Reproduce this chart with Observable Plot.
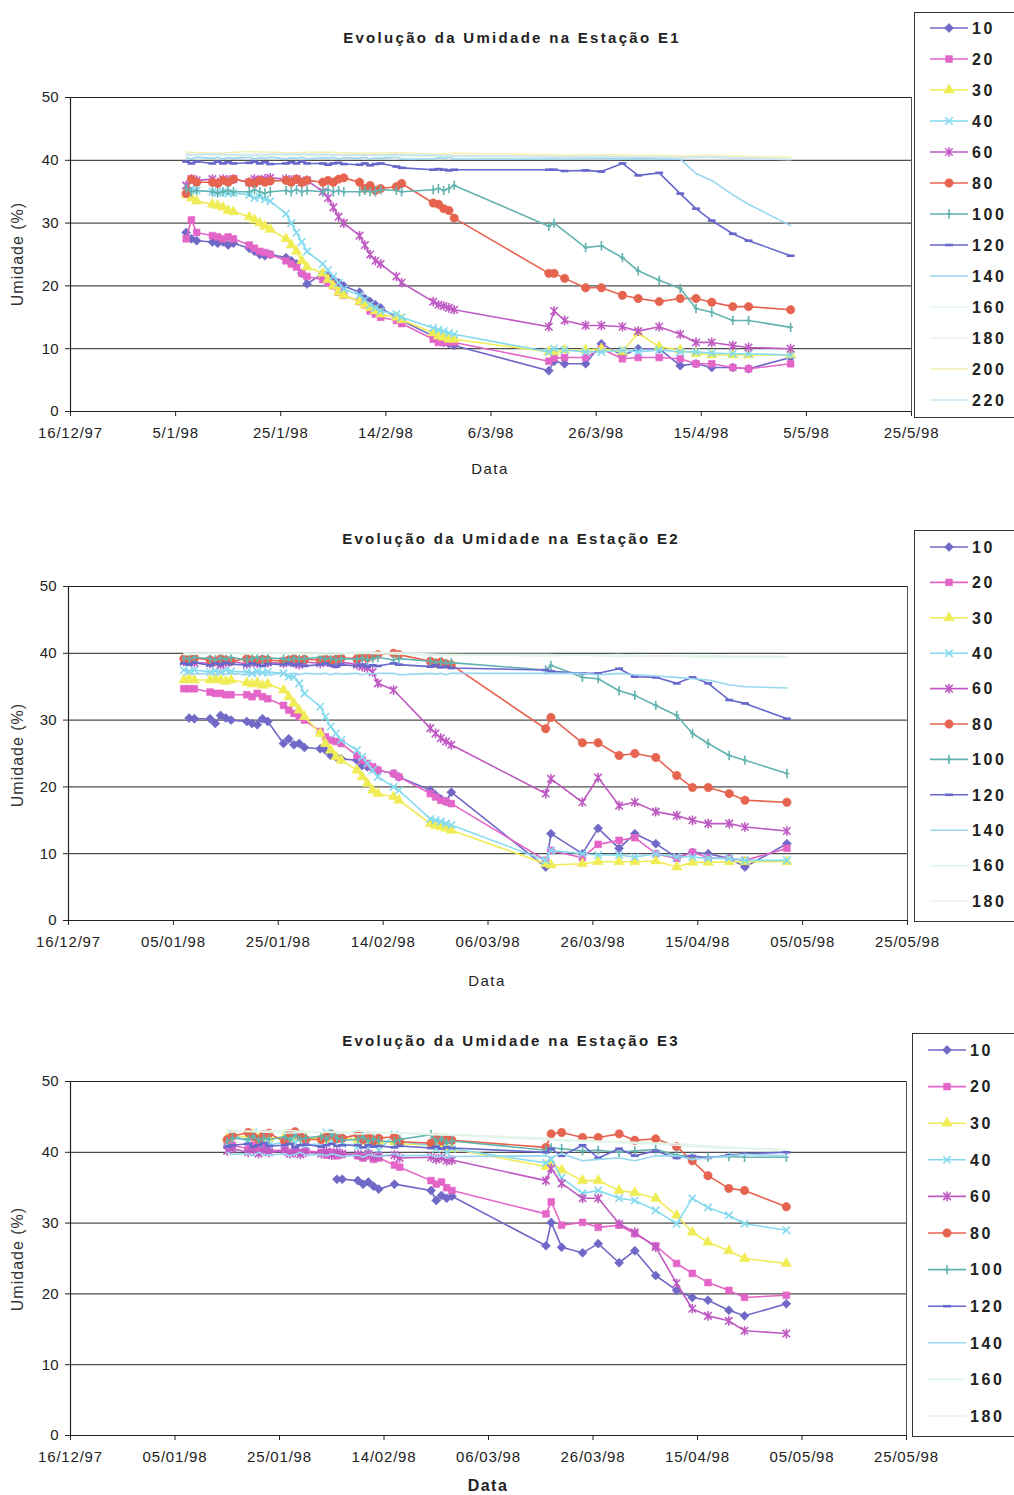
<!DOCTYPE html>
<html><head><meta charset="utf-8">
<script src="https://cdn.jsdelivr.net/npm/d3@7"></script>
<script src="https://cdn.jsdelivr.net/npm/@observablehq/plot@0.6"></script>
<style>
html,body{margin:0;padding:0;background:#fff;}
#page{position:relative;width:1014px;height:1495px;overflow:hidden;background:#fff;font-family:"Liberation Sans",Arial,sans-serif;color:#222;}
.title{position:absolute;font-weight:bold;font-size:15px;letter-spacing:2.3px;white-space:nowrap;transform:translate(-50%,-50%);color:#222;}
.ylab{position:absolute;font-size:16px;letter-spacing:1px;white-space:nowrap;transform:translate(-50%,-50%) rotate(-90deg);color:#333;}
.xlab{position:absolute;font-size:15px;letter-spacing:1.5px;white-space:nowrap;transform:translate(-50%,-50%);color:#222;}
.legend{position:absolute;border:1.5px solid #333;background:#fff;box-sizing:border-box;}
#page svg g[aria-label="x-axis tick label"] text{letter-spacing:0.8px;}
</style></head>
<body><div id="page"></div>
<script>
// ---------- shared ----------
const depths = ["10","20","30","40","60","80","100","120","140","160","180","200","220"];
const seriesColors = ["#7068c6","#e465c8","#f0ec55","#84daef","#be5ac2","#e6634f","#62b3b0","#6767cc","#96d6ef","#e2f5f5","#e3f4e3","#f5f1b6","#cae3f5"];
const markerKinds = ["diamond","square","triangle","times","asterisk","circle","plus","dash","none","none","none","none","none"];
const tickDates = ["1997-12-16","1998-01-05","1998-01-25","1998-02-14","1998-03-06","1998-03-26","1998-04-15","1998-05-05","1998-05-25"];
const e1TickLabels = ["16/12/97","5/1/98","25/1/98","14/2/98","6/3/98","26/3/98","15/4/98","5/5/98","25/5/98"];
const e23TickLabels = ["16/12/97","05/01/98","25/01/98","14/02/98","06/03/98","26/03/98","15/04/98","05/05/98","25/05/98"];
const yTicks = [0,10,20,30,40,50];

// ---------- Estação E1 ----------
const e1Dates = ["1998-01-07","1998-01-08","1998-01-09","1998-01-12","1998-01-13","1998-01-14","1998-01-15","1998-01-16","1998-01-19","1998-01-20","1998-01-21","1998-01-22","1998-01-23","1998-01-26","1998-01-27","1998-01-28","1998-01-29","1998-01-30","1998-02-02","1998-02-03","1998-02-04","1998-02-05","1998-02-06","1998-02-09","1998-02-10","1998-02-11","1998-02-12","1998-02-13","1998-02-16","1998-02-17","1998-02-23","1998-02-24","1998-02-25","1998-02-26","1998-02-27","1998-03-17","1998-03-18","1998-03-20","1998-03-24","1998-03-27","1998-03-31","1998-04-03","1998-04-07","1998-04-11","1998-04-14","1998-04-17","1998-04-21","1998-04-24","1998-05-02"];
const e1s10 = [28.5,27.5,27.2, 27,26.8,27,26.5,26.8, 26,25.5,25,24.8,25, 24.5,24,23.5,22,20.3, 22,21.5,21,20.5,20, 19,18,17.5,17,16.5, 15,14.5, 12,11.5,11,10.8,10.5, 6.5,8,7.6,7.6,10.8,8.9,10,10,7.3,7.6,7,7,6.8,8.6];
const e1s20 = [27.5,30.5,28.5, 28,27.8,27.5,27.8,27.5, 26.5,26,25.5,25.3,25, 24,23.5,23,22,21.5, 21,20.5,20,19,18.5, 17.5,17,16,15.5,15, 14.5,14, 11.5,11,11,11,11, 8,8.5,8.6,8.6,10,8.4,8.6,8.6,8.4,7.6,7.6,7,6.8,7.6];
const e1s30 = [34.5,34,33.5, 33,32.8,32.5,32,31.8, 31,30.5,30,29.5,29, 27.5,26.5,25.5,24,23, 22,21,20,19,18.5, 17.5,17,16.5,16,15.5, 15,14.6, 12.5,12,11.8,11.5,11.5, 9.5,9.5,9.8,9.8,10,9.5,12.5,10.3,9.8,9.2,9,9,9,9];
const e1s40 = [36,35.5,35.2, 35,34.8,35,34.7,34.8, 34.5,34,34.2,33.8,33.5, 31.5,30,28.5,27,25.5, 23.5,22.5,21.5,20.5,19.5, 18.5,17.8,17,16.5,16, 15.5,15, 13.3,13,12.8,12.5,12.3, 9.5,10,9.8,9.5,9.5,9.8,9.5,9.8,9.5,9.5,9.3,9.2,9.2,9];
const e1s60 = [36,37,36.8, 37,36.5,37,36.8,37, 36.5,37,36.8,37,37.2, 37,36.8,37,36.5,36.8, 35,34,32.5,31,30, 28,26.5,25,24,23.5, 21.5,20.5, 17.5,17,16.8,16.5,16.2, 13.5,16,14.5,13.7,13.7,13.5,12.8,13.5,12.3,11,11,10.5,10.2,10];
const e1s80 = [34.7,37,36.5, 36.5,36.3,36.8,36.5,37, 36.5,36.3,36.8,36.5,36.7, 36.8,36.5,37,36.5,36.8, 36.5,36.8,36.5,37,37.2, 36.5,35.5,36,35.2,35.5, 35.8,36.3, 33.2,33,32.3,32,30.8, 22,22,21.2,19.7,19.7,18.5,18,17.5,18,18,17.4,16.7,16.7,16.2];
const e1s100 = [35.5,35,35.2, 35,34.8,35,35.2,35, 35,35.3,35,34.8,35, 35.2,35,35.3,35,35.2, 35,35.3,35,35.2,35, 35,35.2,35,35,35.3, 35.2,35, 35.3,35.5,35.2,35.5,36, 29.5,30,null,26.1,26.4,24.5,22.4,20.9,19.6,16.4,15.8,14.5,14.5,13.4];
const e1s120 = [39.8,39.5,39.8, 39.5,39.8,39.5,39.7,39.5, 39.6,39.8,39.5,39.7,39.4, 39.5,39.7,39.5,39.8,39.5, 39.5,39.3,39.5,39.6,39.4, 39.3,39.5,39.2,39.4,39.5, 39,38.8, 38.5,38.6,38.5,38.4,38.5, 38.5,38.5,38.3,38.4,38.2,39.5,37.6,38,34.7,32.3,30.4,28.3,27.2,24.8];
const e1s140 = [40.4,40.2,40.5, 40.3,40.5,40.2,40.4,40.3, 40.5,40.2,40.4,40.3,40.5, 40.2,40.4,40.3,40.5,40.2, 40.4,40.3,40.5,40.2,40.4, 40.3,40.5,40.2,40.4,40.3, 40.5,40.2, 40.2,40.4,40.3,40.5,40.2, 40.2,40.3,40.2,40.3,40.3,40.2,40.3,40.2,40.2,37.9,36.8,34.5,33,29.6];
const e1s160 = [41,null,null, 40.8,null,null,null,null, 41,null,null,null,null, 40.9,null,null,null,null, 41,null,null,null,null, 40.8,null,null,null,null, 41,null, 40.9,null,null,null,40.8, 40.6,null,40.7,null,40.6,null,40.5,null,40.6,null,40.5,null,40.4,40.3];
const e1s180 = [40.7,null,null, 40.9,null,null,null,null, 40.6,null,null,null,null, 40.8,null,null,null,null, 40.7,null,null,null,null, 40.9,null,null,null,null, 40.6,null, 40.7,null,null,null,40.6, 40.5,null,40.4,null,40.5,null,40.6,null,40.4,null,40.5,null,40.3,40.2];
const e1s200 = [41.3,null,null, 41.1,null,null,null,null, 41.4,null,null,null,null, 41.2,null,null,null,null, 41.3,null,null,null,null, 41.1,null,null,null,null, 41.2,null, 41,null,null,null,41.1, 40.9,null,40.8,null,40.9,null,40.8,null,40.7,null,40.8,null,40.6,40.5];
const e1s220 = [40.9,null,null, 41,null,null,null,null, 40.8,null,null,null,null, 41,null,null,null,null, 40.9,null,null,null,null, 40.8,null,null,null,null, 40.9,null, 40.8,null,null,null,40.7, 40.6,null,40.5,null,40.6,null,40.5,null,40.4,null,40.5,null,40.3,40.1];

// ---------- Estação E2 ----------
const e2Dates = ["1998-01-07","1998-01-08","1998-01-09","1998-01-12","1998-01-13","1998-01-14","1998-01-15","1998-01-16","1998-01-19","1998-01-20","1998-01-21","1998-01-22","1998-01-23","1998-01-26","1998-01-27","1998-01-28","1998-01-29","1998-01-30","1998-02-02","1998-02-03","1998-02-04","1998-02-05","1998-02-06","1998-02-09","1998-02-10","1998-02-11","1998-02-12","1998-02-13","1998-02-16","1998-02-17","1998-02-23","1998-02-24","1998-02-25","1998-02-26","1998-02-27","1998-03-17","1998-03-18","1998-03-24","1998-03-27","1998-03-31","1998-04-03","1998-04-07","1998-04-11","1998-04-14","1998-04-17","1998-04-21","1998-04-24","1998-05-02"];
const e2s10 = [null,30.3,30.2, 30.2,29.5,30.7,30.3,30, 29.8,29.5,29.3,30.2,29.8, 26.5,27.2,26.3,26.5,25.9, 25.7,25.5,24.7,24.5,24.2, 24,23.2,23,22.8,22.5, 22,21.5, 19.5,18.8,18.2,17.8,19.2, 8,13,10,13.8,10.8,13,11.5,9.4,10.2,10,9.3,8,11.5];
const e2s20 = [34.7,34.7,34.7, 34.2,34,34,33.8,33.8, 33.8,33.5,34,33.5,33.2, 32.2,31.5,31,30.5,30, 28.3,27.5,27,26.8,26.5, 24.7,24,23.5,23,22.5, 22,21.5, 19,18.5,18,17.8,17.5, 9,10.5,9.4,11.4,12,12.4,10,9.3,10.2,9.4,9.3,9,10.8];
const e2s30 = [36,36.2,36, 36,36.2,36,35.8,36, 35.6,35.4,35.6,35.2,35.4, 34.5,33.5,32.5,31.5,30.5, 28,26.5,25.5,24.5,24, 22.5,21.5,20.5,19.5,19, 18.5,18, 14.5,14.2,14,13.8,13.5, 8.5,8.3,8.5,8.8,8.8,8.8,8.9,8,8.7,8.7,8.8,8.8,8.8];
const e2s40 = [37.5,37.3,37.5, 37.2,37.4,37.2,37.5,37.3, 37.2,37,37.3,37.1,37.2, 37,36.5,36.5,35.5,34, 32,30.5,29,28,27, 25.5,24.5,23.5,22.5,21.5, 20,19.5, 15.2,15,14.8,14.5,14.3, 9,10.5,10,9.8,9.8,9.5,10,9.5,9.5,9.3,9.3,9,9];
const e2s60 = [38.8,39,38.6, 38.5,38.8,38.3,38.6,38.8, 38.4,38.7,38.5,38.8,38.6, 38.5,38.8,38.6,38.3,38.7, 38.5,38.8,38.6,38.4,38.7, 38.3,38,37.8,37.2,35.5, 34.5,null, 28.8,28,27.3,26.8,26.3, 19,21.2,17.7,21.4,17.2,17.7,16.3,15.7,15,14.5,14.5,14,13.4];
const e2s80 = [39.2,39,39.3, 39,38.8,39.2,39,38.8, 39.2,39,38.8,39.1,39, 38.8,39,39.2,38.9,39.1, 39,39.2,38.9,39.1,39.3, 39.2,39.5,39.3,39.6,39.8, 40,39.8, 38.8,38.5,38.7,38.4,38.3, 28.7,30.4,26.6,26.6,24.7,25,24.4,21.7,19.9,19.9,19,18,17.7];
const e2s100 = [39.3,39.1,39.4, 39.2,39,39.3,39.1,39.4, 39,39.2,39.4,39.1,39.3, 39.2,39,39.3,39.1,39.2, 39.4,39.1,39.3,39,39.2, 39.1,39.3,39,39.2,39.4, 39,39.2, 38.8,38.6,38.7,38.5,38.6, 37.5,38.2,36.4,36.2,34.4,33.7,32.2,30.7,28,26.5,24.7,24,22];
const e2s120 = [38.5,38.3,38.6, 38.2,38.5,38.3,38.6,38.4, 38.2,38.5,38.3,38.1,38.4, 38.3,38.5,38.2,38.4,38.1, 38.3,38.5,38.2,38,38.3, 38.1,38.3,38,38.2,38.1, 38.5,38.3, 38,38.2,37.9,38,37.8, 37.5,37.3,37,37,37.7,36.5,36.4,35.5,36.4,35.5,33,32.5,30.2];
const e2s140 = [36.8,37,36.9, 37,36.8,37,36.9,37, 36.8,37,36.9,37,36.8, 37,36.9,37,36.8,37, 36.9,37,36.8,37,36.9, 37,36.8,37,36.9,37, 37,36.8, 37,36.9,37,36.8,37, 37,37,37,36.8,37,36.8,36.6,36.4,36.2,36,35.3,35,34.8];
const e2s160 = [40,null,null, 39.9,null,null,null,null, 40.1,null,null,null,null, 39.9,null,null,null,null, 40,null,null,null,null, 40.2,null,null,null,null, 40.1,null, 39.9,null,null,null,39.8, 39.8,null,39.7,null,39.8,null,39.6,null,39.7,null,39.6,null,39.5];
const e2s180 = [39.8,null,null, 40,null,null,null,null, 39.9,null,null,null,null, 40.1,null,null,null,null, 39.8,null,null,null,null, 40,null,null,null,null, 39.9,null, 39.7,null,null,null,39.8, 39.6,null,39.7,null,39.5,null,39.6,null,39.5,null,39.4,null,39.4];

// ---------- Estação E3 ----------
const e3Dates = ["1998-01-15","1998-01-16","1998-01-19","1998-01-20","1998-01-21","1998-01-22","1998-01-23","1998-01-26","1998-01-27","1998-01-28","1998-01-29","1998-01-30","1998-02-02","1998-02-03","1998-02-04","1998-02-05","1998-02-06","1998-02-09","1998-02-10","1998-02-11","1998-02-12","1998-02-13","1998-02-16","1998-02-17","1998-02-23","1998-02-24","1998-02-25","1998-02-26","1998-02-27","1998-03-17","1998-03-18","1998-03-20","1998-03-24","1998-03-27","1998-03-31","1998-04-03","1998-04-07","1998-04-11","1998-04-14","1998-04-17","1998-04-21","1998-04-24","1998-05-02"];
const e3s10 = [null,null, null,null,null,null,null, null,null,null,null,null, null,null,null,36.2,36.2, 36,35.5,35.8,35.2,34.8, 35.5,null, 34.6,33.2,33.9,33.5,33.8, 26.8,30.1,26.6,25.8,27.1,24.4,26.1,22.6,20.5,19.5,19.1,17.7,16.9,18.6];
const e3s20 = [41.5,41, 40.5,41,40.5,40.8,40.3, 40.3,40,40.5,40,40.2, 40,39.6,40,39.5,39.7, 39.5,39.2,39.5,39,39.2, 38.2,37.9, 36,35.5,35.8,35,34.6, 31.3,33,29.7,30.1,29.4,29.7,28.5,26.8,24.3,22.9,21.6,20.5,19.5,19.8];
const e3s30 = [42,42.3, 42.2,42.5,42,42.3,42, 42.2,41.8,42,42.3,42, 42,41.8,42.2,41.8,42, 41.8,41.5,41.8,41.5,41.3, 41.5,41.2, 41,40.8,41,40.7,40.5, 38,38.5,37.5,36,36,34.6,34.3,33.5,31.1,28.7,27.3,26.1,25,24.3];
const e3s40 = [41,42.5, 41.5,42.8,41.2,42.5,41, 41.5,42.7,41.3,42.5,41, 41.2,42.8,41.5,42.3,41.2, 40.8,42,40.5,41.5,40.3, 42.5,41.5, 41,40.5,41.5,40,40.5, 38.5,39,36.4,34.2,34.6,33.5,33.2,31.8,29.9,33.5,32.2,31.1,29.9,29];
const e3s60 = [40.2,40.5, 40,40.3,39.8,40.2,40, 40.2,39.8,40,39.7,40, 39.8,40.1,39.6,40,39.8, 39.7,39.4,39.8,39.3,39.5, 39.6,39.2, 39.3,39,39.2,38.8,38.9, 36,37.7,35.6,33.5,33.5,29.9,28.7,26.6,21.5,17.9,16.9,16.2,14.8,14.4];
const e3s80 = [41.8,42.3, 42.8,42.2,41.8,42.5,42.7, 41.5,42.6,42.9,42.3,41.8, 41.8,42.2,42.5,41.9,42, 42.5,41.8,42.2,41.6,42, 42.2,41.5, 41.3,42.1,41.6,42,41.7, 40.7,42.6,42.8,42.1,42.1,42.6,41.7,41.9,40.8,38.8,36.7,34.9,34.6,32.3];
const e3s100 = [41.5,42, 41.8,42.3,41.6,42,41.8, 42.2,41.7,42.5,41.8,42, 42.3,41.8,42.6,42,41.7, 41.8,42.2,41.5,41.9,41.6, 41.5,41.8, 42.5,41.5,42,41.3,41.6, 40.3,40.6,40.5,40.2,40.3,40,40.2,40.4,39.6,39.4,39.3,39.4,39.3,39.3];
const e3s120 = [40.8,41, 41.2,40.8,41,41.3,40.9, 41,41.2,40.7,41,41.1, 40.8,41,41.2,40.9,41, 41,40.7,41,40.8,40.9, 40.7,40.9, 40.6,40.8,40.5,40.7,40.6, 40,40.5,39.5,41,39.2,40.5,39.5,40.2,39.2,39.5,39.2,39.6,39.8,40];
const e3s140 = [40,39.7, 39.8,39.5,40,39.7,39.6, 39.8,39.5,39.7,40,39.6, 39.7,39.5,39.8,39.6,39.4, 39.6,39.3,39.7,39.5,39.4, 39.8,39.5, 39.6,39.3,39.5,39.2,39.4, 39.5,39.3,39.8,38.8,39,39.2,38.8,39.5,39.5,39,39.2,39.5,39.7,39.5];
const e3s160 = [42.8,null, 43,null,null,null,null, 42.7,null,null,null,null, 42.9,null,null,null,null, 42.6,null,null,null,null, 42.8,null, 42.5,null,null,null,42.4, 41.8,null,41.6,null,41.5,null,41.3,null,41,null,40.7,null,40.5,40.3];
const e3s180 = [43.2,null, 42.9,null,null,null,null, 43.1,null,null,null,null, 42.8,null,null,null,null, 43,null,null,null,null, 42.7,null, 42.6,null,null,null,42.5, 42,null,41.8,null,41.6,null,41.4,null,41.2,null,40.9,null,40.6,40.4];

// ---------- rendering ----------
const parse = s => new Date(s + "T00:00:00Z");
const symDiamond = {draw(c, s) { const r = Math.sqrt(s / 2); c.moveTo(0, -r); c.lineTo(r, 0); c.lineTo(0, r); c.lineTo(-r, 0); c.closePath(); }};
const symTimes = {draw(c, s) { const r = Math.sqrt(s) * 0.5; c.moveTo(-r, -r); c.lineTo(r, r); c.moveTo(-r, r); c.lineTo(r, -r); }};
const symAsterisk = {draw(c, s) { const r = Math.sqrt(s) * 0.5; c.moveTo(-r, -r); c.lineTo(r, r); c.moveTo(-r, r); c.lineTo(r, -r); c.moveTo(0, -r * 1.3); c.lineTo(0, r * 1.3); }};
const symPlus = {draw(c, s) { const r = Math.sqrt(s) * 0.55; c.moveTo(0, -r * 1.2); c.lineTo(0, r * 1.2); c.moveTo(-r * 0.6, 0); c.lineTo(r * 0.6, 0); }};
const symDash = {draw(c, s) { const r = Math.sqrt(s) * 0.55; c.moveTo(-r, 0); c.lineTo(r, 0); }};
const symbols = {diamond: symDiamond, square: d3.symbolSquare, triangle: d3.symbolTriangle, circle: d3.symbolCircle, times: symTimes, asterisk: symAsterisk, plus: symPlus, dash: symDash};
const filled = {diamond: true, square: true, triangle: true, circle: true};
const markerR = {diamond: 3.6, square: 3.8, triangle: 3.8, circle: 4.2, times: 4.2, asterisk: 4.2, plus: 4, dash: 4};

const panels = [
  {title: "Evolução da Umidade na Estação E1", cx: 512, titleY: 37, left: 70, right: 911, top: 97, bottom: 411,
   dates: e1Dates, series: [e1s10,e1s20,e1s30,e1s40,e1s60,e1s80,e1s100,e1s120,e1s140,e1s160,e1s180,e1s200,e1s220],
   n: 13, labels: e1TickLabels, dataX: 490, dataY: 468, dataBold: false, ylabY: 254,
   legend: {x: 914, y: 12, h: 406, y0: 28, step: 31}},
  {title: "Evolução da Umidade na Estação E2", cx: 511, titleY: 538, left: 68, right: 907, top: 586, bottom: 920,
   dates: e2Dates, series: [e2s10,e2s20,e2s30,e2s40,e2s60,e2s80,e2s100,e2s120,e2s140,e2s160,e2s180],
   n: 11, labels: e23TickLabels, dataX: 487, dataY: 980, dataBold: false, ylabY: 755,
   legend: {x: 914, y: 530, h: 392, y0: 547, step: 35.4}},
  {title: "Evolução da Umidade na Estação E3", cx: 511, titleY: 1040, left: 70, right: 906, top: 1081, bottom: 1435,
   dates: e3Dates, series: [e3s10,e3s20,e3s30,e3s40,e3s60,e3s80,e3s100,e3s120,e3s140,e3s160,e3s180],
   n: 11, labels: e23TickLabels, dataX: 488, dataY: 1486, dataBold: true, ylabY: 1259,
   legend: {x: 912, y: 1033, h: 404, y0: 1050, step: 36.6}}
];

const page = document.getElementById("page");
function addText(cls, txt, x, y, extra) {
  const d = document.createElement("div");
  d.className = cls; d.textContent = txt;
  d.style.left = x + "px"; d.style.top = y + "px";
  if (extra) Object.assign(d.style, extra);
  page.appendChild(d);
}

const xStart = parse(tickDates[0]), xEnd = parse(tickDates[tickDates.length - 1]);

panels.forEach(p => {
  addText("title", p.title, p.cx, p.titleY);
  addText("ylab", "Umidade (%)", 18, p.ylabY);
  addText("xlab", "Data", p.dataX, p.dataY, p.dataBold ? {fontWeight: "bold", fontSize: "16px"} : null);

  const labelMap = new Map(tickDates.map((d, i) => [+parse(d), p.labels[i]]));
  const seriesMarks = [];
  p.series.forEach((vals, k) => {
    const color = seriesColors[k];
    const rows = p.dates.map((d, j) => ({date: parse(d), v: vals[j]})).filter(r => r.v != null);
    seriesMarks.push(Plot.line(rows, {x: "date", y: "v", stroke: color, strokeWidth: 1.6}));
    const m = markerKinds[k];
    if (m !== "none") {
      const style = filled[m] ? {fill: color, stroke: color, strokeWidth: 0.6} : {fill: "none", stroke: color, strokeWidth: m === "dash" ? 2.6 : 1.6};
      seriesMarks.push(Plot.dot(rows, {x: "date", y: "v", symbol: symbols[m], r: markerR[m], ...style}));
    }
  });

  const mT = 10, mB = 45, mR = 8;
  const svg = Plot.plot({
    width: p.right + mR, height: mT + (p.bottom - p.top) + mB,
    marginLeft: p.left, marginRight: mR, marginTop: mT, marginBottom: mB,
    style: {fontFamily: '"Liberation Sans", Arial, sans-serif', fontSize: "15px", color: "#222", background: "transparent", overflow: "visible"},
    x: {type: "utc", domain: [xStart, xEnd]},
    y: {domain: [0, 50]},
    marks: [
      Plot.ruleY(yTicks.slice(1), {stroke: "#222", strokeWidth: 1}),
      Plot.ruleX([xEnd], {stroke: "#555", strokeWidth: 1}),
      ...seriesMarks,
      Plot.ruleY([0], {stroke: "#222", strokeWidth: 1.2}),
      Plot.ruleX([xStart], {stroke: "#222", strokeWidth: 1.2}),
      Plot.axisY(yTicks, {anchor: "left", tickSize: 5, tickPadding: 7, label: null, fontSize: 15}),
      Plot.axisX(tickDates.map(parse), {anchor: "bottom", tickSize: 5, tickPadding: 11, label: null, fontSize: 15, tickFormat: d => labelMap.get(+d)})
    ]
  });
  svg.style.position = "absolute";
  svg.style.left = "0px";
  svg.style.top = (p.top - mT) + "px";
  page.appendChild(svg);

  // legend box
  const L = p.legend;
  const box = document.createElement("div");
  box.className = "legend";
  box.style.left = L.x + "px"; box.style.top = L.y + "px";
  box.style.width = "130px"; box.style.height = L.h + "px";
  page.appendChild(box);
  const lsvg = d3.create("svg").attr("width", 130).attr("height", L.h)
    .style("position", "absolute").style("left", "-1.5px").style("top", "-1.5px");
  for (let k = 0; k < p.n; k++) {
    const cy = L.y0 + k * L.step - L.y;
    const color = seriesColors[k];
    const g = lsvg.append("g");
    g.append("line").attr("x1", 16).attr("x2", 54).attr("y1", cy).attr("y2", cy)
      .attr("stroke", color).attr("stroke-width", 1.6);
    const m = markerKinds[k];
    if (m !== "none") {
      const r = markerR[m];
      const path = d3.symbol(symbols[m], r * r * Math.PI)();
      g.append("path").attr("d", path).attr("transform", `translate(35,${cy})`)
        .attr("fill", filled[m] ? color : "none").attr("stroke", color)
        .attr("stroke-width", filled[m] ? 0.6 : (m === "dash" ? 2.6 : 1.6));
    }
    g.append("text").attr("x", 58).attr("y", cy).attr("dy", "0.36em")
      .attr("font-family", '"Liberation Sans", Arial, sans-serif').attr("font-size", 16)
      .attr("font-weight", "bold").attr("letter-spacing", "2.6px").attr("fill", "#222")
      .text(depths[k]);
  }
  box.appendChild(lsvg.node());
});
</script>
</body></html>
